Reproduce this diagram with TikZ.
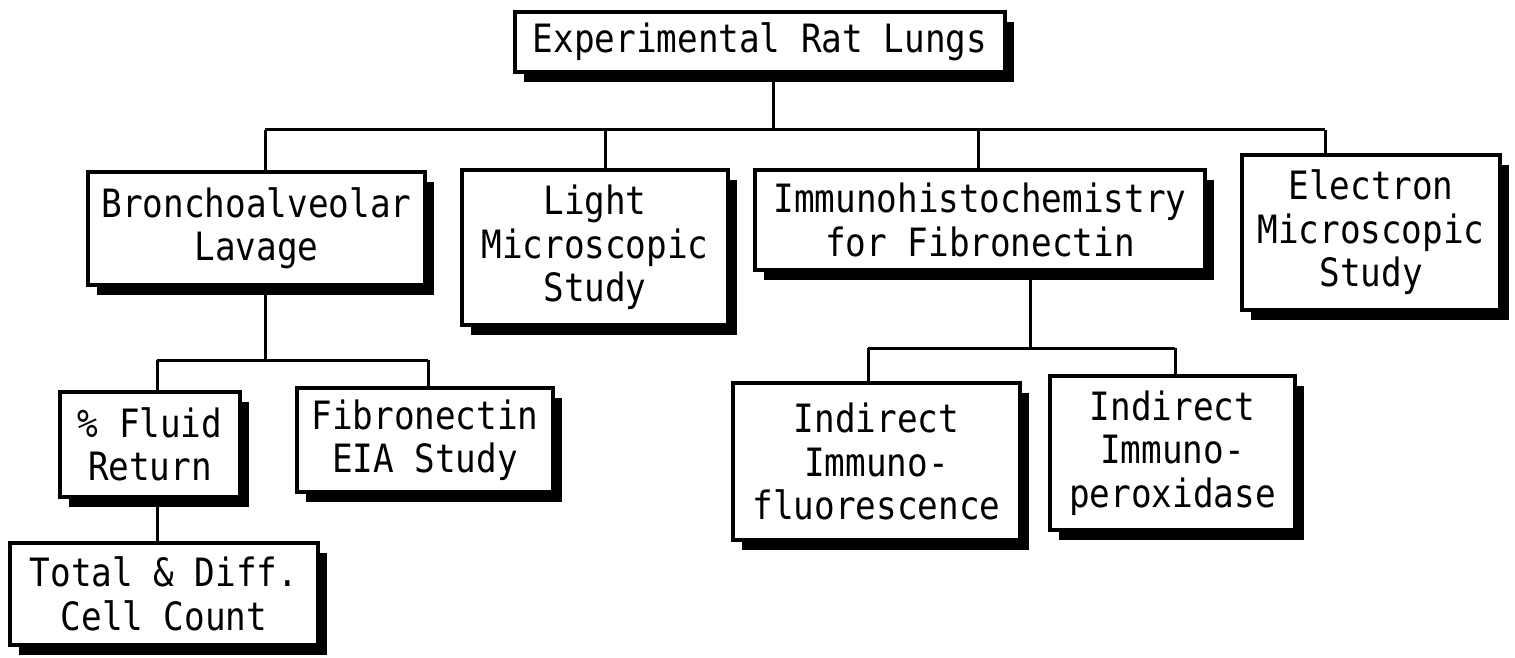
\documentclass[tikz,border=0pt]{standalone}
\usepackage{fontspec}
\newfontfamily\plotfont[FakeStretch=0.88]{DejaVu Sans Mono}
\usetikzlibrary{shadows}
\begin{document}
\begin{tikzpicture}[x=1pt,y=-1pt,
  box/.style={draw=black, line width=3.5pt, fill=white, inner sep=0pt, align=center,
    font=\plotfont\fontsize{39}{43.5}\selectfont,
    drop shadow={shadow xshift=9pt, shadow yshift=-10pt, fill=black, opacity=1}},
  conn/.style={line width=3pt}]
\useasboundingbox (0,0) rectangle (1515,658);
\node[box, minimum width=490, minimum height=60] (top) at (760,42) {Experimental Rat Lungs};
\node[box, minimum width=337, minimum height=113] (broncho) at (256.5,228.5) {Bronchoalveolar\\Lavage};
\node[box, minimum width=266, minimum height=155] (light) at (595,247.5) {Light\\Microscopic\\Study};
\node[box, minimum width=450, minimum height=100] (immuno) at (980,220) {Immunohistochemistry\\for Fibronectin};
\node[box, minimum width=258, minimum height=155] (electron) at (1371,232.5) {Electron\\Microscopic\\Study};
\node[box, minimum width=180, minimum height=105] (fluid) at (150,444.5) {\% Fluid\\Return};
\node[box, minimum width=256, minimum height=104] (fibro) at (425,440) {Fibronectin\\EIA Study};
\node[box, minimum width=308, minimum height=102] (total) at (164,594) {Total \& Diff.\\Cell Count};
\node[box, minimum width=287, minimum height=157] (ind1) at (876.5,461.5) {Indirect\\Immuno-\\fluorescence};
\node[box, minimum width=245, minimum height=154] (ind2) at (1172.5,453) {Indirect\\Immuno-\\peroxidase};
% top level bus
\coordinate (busA) at (265,130);
\coordinate (busB) at (1325,130);
\coordinate (tdrop) at (773,130);
\coordinate (l1) at (605,130);
\coordinate (i1) at (978,130);
\draw[conn] (busA) -- (busB);
\draw[conn] (top.south -| tdrop) -- (tdrop);
\draw[conn] (busA) -- (busA |- broncho.north);
\draw[conn] (l1) -- (l1 |- light.north);
\draw[conn] (i1) -- (i1 |- immuno.north);
\draw[conn] (busB) -- (busB |- electron.north);
% broncho bus
\coordinate (bb) at (265,360);
\coordinate (bbL) at (157,360);
\coordinate (bbR) at (428,360);
\draw[conn] (broncho.south -| bb) -- (bb);
\draw[conn] (bbL) -- (bbR);
\draw[conn] (bbL) -- (bbL |- fluid.north);
\draw[conn] (bbR) -- (bbR |- fibro.north);
\draw[conn] (fluid.south -| bbL) -- (bbL |- total.north);
% immuno bus
\coordinate (ib) at (1030,348);
\coordinate (ibL) at (868,348);
\coordinate (ibR) at (1175,348);
\draw[conn] (immuno.south -| ib) -- (ib);
\draw[conn] (ibL) -- (ibR);
\draw[conn] (ibL) -- (ibL |- ind1.north);
\draw[conn] (ibR) -- (ibR |- ind2.north);
\end{tikzpicture}
\end{document}
